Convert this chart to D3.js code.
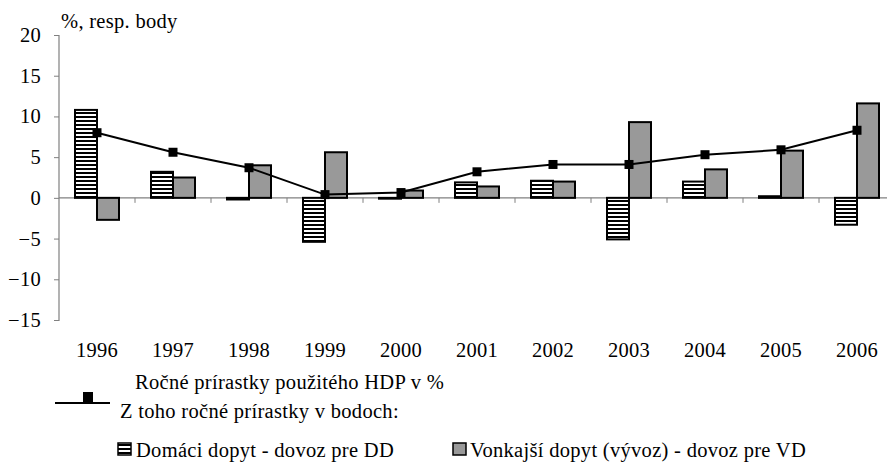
<!DOCTYPE html>
<html><head><meta charset="utf-8">
<script src="https://cdn.jsdelivr.net/npm/d3@7/dist/d3.min.js"></script>
<style>body{margin:0;background:#fff}svg{display:block}</style>
</head><body>
<script>
const years = ["1996","1997","1998","1999","2000","2001","2002","2003","2004","2005","2006"];
const domestic = [10.8, 3.2, -0.2, -5.4, -0.1, 1.9, 2.1, -5.1, 2.0, 0.2, -3.3];
const external = [-2.7, 2.5, 4.0, 5.6, 0.9, 1.4, 2.0, 9.3, 3.5, 5.8, 11.6];
const gdpGrowth = [8.0, 5.6, 3.7, 0.4, 0.65, 3.2, 4.1, 4.1, 5.3, 5.9, 8.3];
const yTicks = [-15, -10, -5, 0, 5, 10, 15, 20];
const yTitle = "%, resp. body";
const legendLine1 = "Ročné prírastky použitého HDP v %";
const legendLine2 = "Z toho ročné prírastky v bodoch:";
const legendDom = "Domáci dopyt - dovoz pre DD";
const legendExt = "Vonkajší dopyt (vývoz) - dovoz pre VD";

const FONT = "'Liberation Serif', 'DejaVu Serif', serif";
const FS = 20.5;
const W = 887, H = 465;
const svg = d3.select("body").append("svg").attr("width", W).attr("height", H)
  .attr("font-family", FONT).attr("font-size", FS).attr("letter-spacing", 0.3);
const defs = svg.append("defs");
const pat = defs.append("pattern").attr("id","hatch").attr("patternUnits","userSpaceOnUse")
  .attr("width",4).attr("height",4);
pat.append("rect").attr("width",4).attr("height",4).attr("fill","#fff");
pat.append("rect").attr("y",0).attr("width",4).attr("height",2).attr("fill","#000");

const x = d3.scaleBand().domain(years).range([59, 895]).paddingInner(0).paddingOuter(0);
const y = d3.scaleLinear().domain([-15, 20]).range([320, 35]);
const bw = 22;

// y axis
const gy = svg.append("g").attr("transform","translate(59,0)")
  .call(d3.axisLeft(y).tickValues(yTicks).tickSize(5).tickPadding(13));
gy.attr("font-family", FONT).attr("font-size", FS);
gy.select(".domain").attr("stroke","#808080").attr("stroke-width",1.2).attr("d","M-5,35.5H0V320.5H-5");
gy.selectAll(".tick line").attr("stroke","#808080");
gy.selectAll(".tick text").attr("fill","#000");

// zero line axis
const gx = svg.append("g").attr("transform",`translate(0,${y(0)})`);
gx.append("line").attr("x1",59).attr("x2",887).attr("stroke","#808080").attr("stroke-width",1.2);
gx.selectAll("line.tk").data(years.slice(1)).join("line").attr("class","tk")
  .attr("x1",d=>x(d)).attr("x2",d=>x(d)).attr("y1",0).attr("y2",5).attr("stroke","#808080");

// year labels
svg.append("g").selectAll("text").data(years).join("text")
  .attr("x",d=>x(d)+x.bandwidth()/2).attr("y",357).attr("text-anchor","middle")
  .text(d=>d);

// bars
const c = d => x(d) + x.bandwidth()/2;
svg.append("g").selectAll("rect").data(years).join("rect")
  .attr("x",d=>c(d)-bw).attr("width",bw)
  .attr("y",(d,i)=>y(Math.max(0,domestic[i])))
  .attr("height",(d,i)=>Math.abs(y(domestic[i])-y(0)))
  .attr("fill","url(#hatch)").attr("stroke","#000").attr("stroke-width",2);
svg.append("g").selectAll("rect").data(years).join("rect")
  .attr("x",d=>c(d)).attr("width",bw)
  .attr("y",(d,i)=>y(Math.max(0,external[i])))
  .attr("height",(d,i)=>Math.abs(y(external[i])-y(0)))
  .attr("fill","#999999").attr("stroke","#000").attr("stroke-width",2);

// line
const line = d3.line().x((d,i)=>c(years[i])).y(d=>y(d));
svg.append("path").datum(gdpGrowth).attr("d",line).attr("fill","none").attr("stroke","#000").attr("stroke-width",2);
svg.append("g").selectAll("rect").data(gdpGrowth).join("rect")
  .attr("x",(d,i)=>c(years[i])-4.5).attr("y",d=>y(d)-4.5).attr("width",9).attr("height",9).attr("fill","#000");

// title
svg.append("text").attr("x",61).attr("y",28).text(yTitle);

// legend
svg.append("line").attr("x1",55).attr("x2",110).attr("y1",403).attr("y2",403).attr("stroke","#000").attr("stroke-width",2);
svg.append("rect").attr("x",83).attr("y",392).attr("width",10).attr("height",11).attr("fill","#000");
svg.append("text").attr("x",135).attr("y",389).text(legendLine1);
svg.append("text").attr("x",120).attr("y",418).text(legendLine2);
svg.append("rect").attr("x",118).attr("y",443).attr("width",13).attr("height",12).attr("fill","url(#hatch)").attr("stroke","#000").attr("stroke-width",1.5);
svg.append("text").attr("x",136).attr("y",457).text(legendDom);
svg.append("rect").attr("x",453).attr("y",443).attr("width",13).attr("height",12).attr("fill","#999").attr("stroke","#000").attr("stroke-width",1.5);
svg.append("text").attr("x",470).attr("y",457).text(legendExt);
</script>
</body></html>
